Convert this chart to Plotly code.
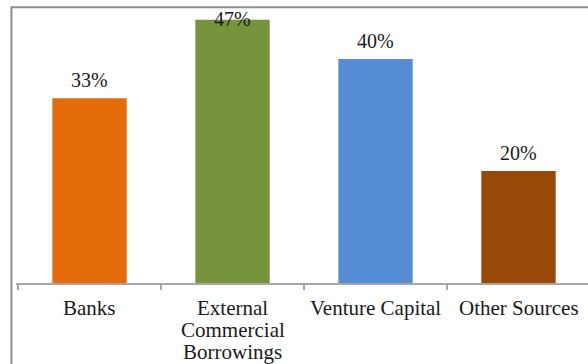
import plotly.graph_objects as go

# Источники финансирования (доли)
categories = ["Banks", "External\nCommercial\nBorrowings", "Venture Capital", "Other Sources"]
shares = [0.33, 0.47, 0.40, 0.20]
bar_colors = ["#E46C0A", "#77933C", "#558ED5", "#984807"]

FONT = "Liberation Serif, Times New Roman, serif"
TEXT_COLOR = "#1a1a1a"
FRAME_COLOR = "#8f8f8f"

fig = go.Figure()

fig.add_trace(go.Bar(
    x=categories,
    y=shares,
    marker=dict(color=bar_colors, line=dict(width=0)),
    hoverinfo="skip",
))

# Подписи над столбцами (верхняя прижимается к рамке, как в оригинале)
for cat, v in zip(categories, shares):
    fig.add_annotation(
        x=cat, y=min(v + 0.032, 0.4715),
        text=f"{round(v * 100)}%",
        showarrow=False, yanchor="middle",
        font=dict(family=FONT, size=20, color=TEXT_COLOR),
    )

# Подписи категорий построчно (плотный межстрочный интервал, как в Excel)
for cat in categories:
    for n, line in enumerate(cat.split("\n")):
        fig.add_annotation(
            x=cat, y=0, text=line,
            showarrow=False, yanchor="middle",
            yshift=-(25 + 22 * n),
            font=dict(family=FONT, size=21, color=TEXT_COLOR),
        )

# Рамка области диаграммы (видна только левая и верхняя стороны)
fig.add_shape(
    type="path", xref="paper", yref="paper",
    path="M -0.008,-0.5 L -0.008,0.985 L 1.05,0.985",
    line=dict(color=FRAME_COLOR, width=2), layer="above",
)

fig.update_layout(
    width=588,
    height=364,
    margin=dict(l=16, r=0, t=3, b=81),
    paper_bgcolor="white",
    plot_bgcolor="white",
    bargap=0.48,
    showlegend=False,
    xaxis=dict(
        range=[-0.514, 3.486],
        showline=True, linecolor="#A6A6A6", linewidth=1.5,
        ticks="outside", tickson="boundaries", ticklen=5,
        tickcolor="#A6A6A6", tickwidth=1.5,
        showticklabels=False,
        showgrid=False, zeroline=False,
    ),
    yaxis=dict(
        range=[0, 0.5], visible=False, showgrid=False, zeroline=False,
    ),
)

fig.write_html(
    "out.html",
    config={"displayModeBar": False},
    post_script="document.body.style.margin='0';",
)
